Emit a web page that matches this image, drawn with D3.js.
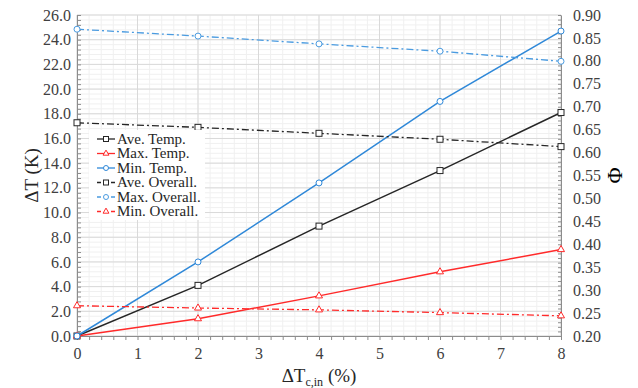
<!DOCTYPE html>
<html>
<head>
<meta charset="utf-8">
<script src="https://cdn.jsdelivr.net/npm/d3@7"></script>
<style>
  body { margin: 0; background: #fff; }
</style>
</head>
<body>
<div id="chart"></div>
<script>
// x values (ΔTc,in %)
const xVals = [0, 2, 4, 6, 8];

// left axis series (ΔT, K)
const aveTemp = [0, 4.1, 8.9, 13.4, 18.1];
const maxTemp = [0, 1.4, 3.25, 5.2, 7.0];
const minTemp = [0, 6.0, 12.4, 19.0, 24.7];

// right axis series (Φ)
const aveOverall = [0.665, 0.655, 0.642, 0.629, 0.613];
const maxOverall = [0.869, 0.854, 0.837, 0.821, 0.799];
const minOverall = [0.266, 0.261, 0.257, 0.251, 0.244];

const leftTicks = d3.range(0, 26.01, 2);
const rightTicks = d3.range(0.2, 0.901, 0.05);
const xTicks = d3.range(0, 9, 1);

const width = 638, height = 388;
const margin = {top: 15, right: 77, bottom: 52, left: 77};
const serif = "'Liberation Serif', 'Times New Roman', serif";

const black = "#262626", red = "#ff2a2a", blue = "#2f88d8", blueLight = "#4a9be0";

const series = [
  {name: "Ave. Temp.", vals: aveTemp, axis: "L", color: black, marker: "square", dash: null},
  {name: "Max. Temp.", vals: maxTemp, axis: "L", color: red, marker: "triangle", dash: null},
  {name: "Min. Temp.", vals: minTemp, axis: "L", color: blue, marker: "circle", dash: null},
  {name: "Ave. Overall.", vals: aveOverall, axis: "R", color: black, marker: "square", dash: "7,3,2,3"},
  {name: "Max. Overall.", vals: maxOverall, axis: "R", color: blueLight, marker: "circle", dash: "7,3,2,3"},
  {name: "Min. Overall.", vals: minOverall, axis: "R", color: red, marker: "triangle", dash: "7,3,2,3"}
];

const svg = d3.select("#chart").append("svg")
  .attr("width", width)
  .attr("height", height)
  .style("font-family", serif);

const x = d3.scaleLinear().domain([0, 8]).range([margin.left, width - margin.right]);
const yL = d3.scaleLinear().domain([0, 26]).range([height - margin.bottom, margin.top]);
const yR = d3.scaleLinear().domain([0.2, 0.9]).range([height - margin.bottom, margin.top]);

// grid: minor then major
const grid = svg.append("g");
grid.selectAll(".vminor").data(d3.range(0, 8.001, 0.2)).enter().append("line")
  .attr("x1", d => x(d)).attr("x2", d => x(d))
  .attr("y1", yL(0)).attr("y2", yL(26))
  .attr("stroke", "#f0f0f0").attr("stroke-width", 1);
grid.selectAll(".hminor").data(d3.range(0, 26.001, 0.4)).enter().append("line")
  .attr("x1", x(0)).attr("x2", x(8))
  .attr("y1", d => yL(d)).attr("y2", d => yL(d))
  .attr("stroke", "#f0f0f0").attr("stroke-width", 1);
grid.selectAll(".vmajor").data(xTicks).enter().append("line")
  .attr("x1", d => x(d)).attr("x2", d => x(d))
  .attr("y1", yL(0)).attr("y2", yL(26))
  .attr("stroke", "#d9d9d9").attr("stroke-width", 1);
grid.selectAll(".hmajor").data(leftTicks).enter().append("line")
  .attr("x1", x(0)).attr("x2", x(8))
  .attr("y1", d => yL(d)).attr("y2", d => yL(d))
  .attr("stroke", "#d9d9d9").attr("stroke-width", 1);

// axes
const axisColor = "#8c8c8c";
const styleAxis = g => {
  g.attr("font-family", null).attr("font-size", null);
  g.select(".domain").attr("stroke", axisColor);
  g.selectAll(".tick line").attr("stroke", axisColor);
  g.selectAll(".tick text")
    .attr("fill", "#404040")
    .style("font-size", "16px");
};

// minor ticks
const minorL = svg.append("g").attr("transform", `translate(${x(0)},0)`)
  .call(d3.axisLeft(yL).tickValues(d3.range(0, 26.001, 0.4)).tickSize(-4).tickFormat(""));
minorL.select(".domain").remove();
minorL.selectAll("line").attr("stroke", axisColor);
const minorR = svg.append("g").attr("transform", `translate(${x(8)},0)`)
  .call(d3.axisRight(yR).tickValues(d3.range(0.2, 0.9001, 0.01)).tickSize(-3).tickFormat(""));
minorR.select(".domain").remove();
minorR.selectAll("line").attr("stroke", axisColor);
const minorB = svg.append("g").attr("transform", `translate(0,${yL(0)})`)
  .call(d3.axisBottom(x).tickValues(d3.range(0, 8.001, 0.2)).tickSize(4).tickFormat(""));
minorB.select(".domain").remove();
minorB.selectAll("line").attr("stroke", axisColor);

svg.append("g").attr("transform", `translate(${x(0)},0)`)
  .call(d3.axisLeft(yL).tickValues(leftTicks).tickSize(0).tickPadding(6).tickFormat(d3.format(".1f")))
  .call(styleAxis);
svg.append("g").attr("transform", `translate(${x(8)},0)`)
  .call(d3.axisRight(yR).tickValues(rightTicks).tickSize(0).tickPadding(12).tickFormat(d3.format(".2f")))
  .call(styleAxis);
svg.append("g").attr("transform", `translate(0,${yL(0)})`)
  .call(d3.axisBottom(x).tickValues(xTicks).tickSize(0).tickPadding(12).tickFormat(d3.format("d")))
  .call(styleAxis);

// axis titles
svg.append("text")
  .attr("transform", `translate(38,${(yL(0) + yL(26)) / 2}) rotate(-90)`)
  .attr("text-anchor", "middle")
  .attr("fill", "#262626")
  .style("font-size", "19px")
  .text("ΔT (K)");
svg.append("text")
  .attr("transform", `translate(622,${(yL(0) + yL(26)) / 2}) rotate(-90)`)
  .attr("text-anchor", "middle")
  .attr("fill", "#000")
  .style("font-size", "22px")
  .text("Φ");
const xt = svg.append("text")
  .attr("x", (x(0) + x(8)) / 2)
  .attr("y", 382)
  .attr("text-anchor", "middle")
  .attr("fill", "#262626")
  .style("font-size", "19px");
xt.append("tspan").text("ΔT");
xt.append("tspan").attr("dy", 4).style("font-size", "12px").text("c,in");
xt.append("tspan").attr("dy", -4).text(" (%)");

// markers
const drawMarker = (sel, type, color, size) => {
  if (type === "circle") {
    sel.append("circle").attr("r", size / 2)
      .attr("fill", "#fff").attr("stroke", color).attr("stroke-width", 1);
  } else if (type === "square") {
    sel.append("rect").attr("x", -size / 2).attr("y", -size / 2)
      .attr("width", size).attr("height", size)
      .attr("fill", "#fff").attr("stroke", color).attr("stroke-width", 1);
  } else {
    sel.append("path").attr("d", d3.symbol(d3.symbolTriangle, size * size * 0.6)())
      .attr("fill", "#fff").attr("stroke", color).attr("stroke-width", 1);
  }
};

// lines
series.forEach(s => {
  const y = s.axis === "L" ? yL : yR;
  const line = d3.line().x((d, i) => x(xVals[i])).y(d => y(d));
  svg.append("path")
    .datum(s.vals)
    .attr("d", line)
    .attr("fill", "none")
    .attr("stroke", s.color)
    .attr("stroke-width", s.dash ? 1.3 : 1.5)
    .attr("stroke-dasharray", s.dash);
  svg.selectAll(null).data(s.vals).enter().append("g")
    .attr("transform", (d, i) => `translate(${x(xVals[i])},${y(d)})`)
    .each(function () { drawMarker(d3.select(this), s.marker, s.color, 6); });
});

// legend
const lg = svg.append("g");
lg.append("rect")
  .attr("x", 89).attr("y", 130).attr("width", 116).attr("height", 90)
  .attr("fill", "#fff");
series.forEach((s, i) => {
  const cy = 139 + i * 14.5;
  lg.append("line")
    .attr("x1", 97).attr("x2", 115).attr("y1", cy).attr("y2", cy)
    .attr("stroke", s.color).attr("stroke-width", 1.3)
    .attr("stroke-dasharray", s.dash ? "4,3" : null);
  const m = lg.append("g").attr("transform", `translate(106,${cy})`);
  drawMarker(m, s.marker, s.color, 5);
  lg.append("text")
    .attr("x", 117).attr("y", cy + 4.5)
    .attr("fill", "#262626")
    .style("font-size", "15px")
    .text(s.name);
});
</script>
</body>
</html>
